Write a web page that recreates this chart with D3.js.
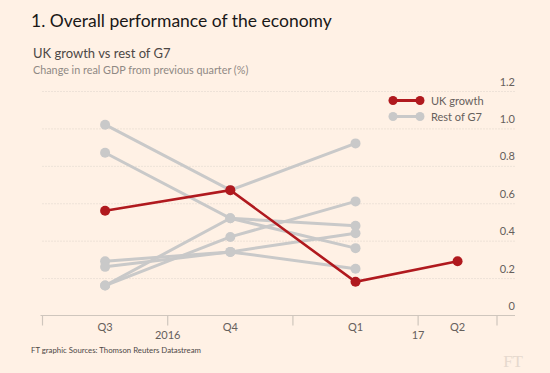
<!DOCTYPE html>
<html>
<head>
<meta charset="utf-8">
<script src="https://cdn.jsdelivr.net/npm/d3@7"></script>
<style>
  body { margin: 0; background: #fff1e5; }
  svg text { font-family: "Lato", "Noto Sans", sans-serif; }
</style>
</head>
<body>
<div id="chart"></div>
<script>
// quarters shown, year markers on the axis
let quarters    = ["Q3", "Q4", "Q1", "Q2"];
let yearMarks   = [{ q: 1, label: "2016" }, { q: 3, label: "17" }];
let ukGrowth    = [0.56, 0.67, 0.18, 0.29];
// rest of G7, one row per country (Q3, Q4, Q1)
let restOfG7    = [
    [1.02, 0.67, 0.92],
    [0.87, 0.52, 0.36],
    [0.16, 0.52, 0.48],
    [0.16, 0.42, 0.61],
    [0.29, 0.34, 0.44],
    [0.26, 0.34, 0.25]
];
let yTicks      = [0, 0.2, 0.4, 0.6, 0.8, 1.0, 1.2];
let xEnd        = 3.63;   // axis stops part way through Q2

let W = 550, H = 373;
let red = "#b0191e", grey = "#c9c9c9", txtGrey = "#66605c";

let svg = d3.select("#chart").append("svg")
    .attr("width", W)
    .attr("height", H);

svg.append("rect").attr("width", W).attr("height", H).attr("fill", "#fff1e5");

let x = d3.scaleLinear().domain([0, xEnd]).range([42.5, 497]);
let y = d3.scaleLinear().domain([0, 1.2]).range([315.5, 91]);

// point sits in the middle of the visible part of each quarter
let qMid = (i) => (i + Math.min(i + 1, xEnd)) / 2;

// titles
svg.append("text").attr("x", 31).attr("y", 27)
    .attr("font-size", 17.5).attr("fill", "#1a1817")
    .text("1. Overall performance of the economy");
svg.append("text").attr("x", 33).attr("y", 58)
    .attr("font-size", 13).attr("fill", "#4d4845")
    .text("UK growth vs rest of G7");
svg.append("text").attr("x", 33).attr("y", 74)
    .attr("font-size", 10.8).attr("fill", "#8f8984")
    .text("Change in real GDP from previous quarter (%)");

// y grid + labels on the right
let yAxis = d3.axisRight(y)
    .tickValues(yTicks)
    .tickSize(x(xEnd) + 18 - 42.5)
    .tickFormat(d => d === 0 ? "0" : d3.format(".1f")(d));

let gy = svg.append("g")
    .attr("transform", "translate(42.5,0)")
    .call(yAxis);
gy.select(".domain").remove();
gy.selectAll(".tick line")
    .attr("stroke", "#dcd3ca")
    .attr("stroke-dasharray", "1,2")
    .attr("stroke-width", 1)
    .filter(d => d === 0).remove();
gy.selectAll(".tick text")
    .attr("x", x(xEnd) + 18 - 42.5)
    .attr("dy", -6)
    .attr("text-anchor", "end")
    .attr("font-size", 11)
    .attr("fill", txtGrey);

// x axis
let gx = svg.append("g").attr("transform", "translate(0," + y(0) + ")");
gx.append("line")
    .attr("x1", x(0) - 2).attr("x2", x(xEnd) + 18)
    .attr("stroke", "#cfc6bd").attr("stroke-width", 1.2);
gx.selectAll(".tk")
    .data([0, 1, 2, 3, xEnd])
    .enter().append("line")
        .attr("x1", d => x(d)).attr("x2", d => x(d))
        .attr("y1", 0).attr("y2", 10)
        .attr("stroke", "#cfc6bd").attr("stroke-width", 1.2);
gx.selectAll(".ql")
    .data(quarters)
    .enter().append("text")
        .attr("x", (d, i) => x(qMid(i)))
        .attr("y", 15.5)
        .attr("text-anchor", "middle")
        .attr("font-size", 11)
        .attr("fill", txtGrey)
        .text(d => d);
gx.selectAll(".yl")
    .data(yearMarks)
    .enter().append("text")
        .attr("x", d => x(d.q))
        .attr("y", 23)
        .attr("text-anchor", "middle")
        .attr("font-size", 11)
        .attr("fill", txtGrey)
        .text(d => d.label);

// lines
let line = d3.line()
    .x((d, i) => x(qMid(i)))
    .y(d => y(d));

let gGrey = svg.append("g");
restOfG7.forEach(series => {
    gGrey.append("path")
        .attr("d", line(series))
        .attr("fill", "none")
        .attr("stroke", grey)
        .attr("stroke-width", 3);
    gGrey.selectAll(null)
        .data(series)
        .enter().append("circle")
            .attr("cx", (d, i) => x(qMid(i)))
            .attr("cy", d => y(d))
            .attr("r", 5)
            .attr("fill", grey);
});

svg.append("path")
    .attr("d", line(ukGrowth))
    .attr("fill", "none")
    .attr("stroke", red)
    .attr("stroke-width", 2.6);
svg.selectAll(".ukdot")
    .data(ukGrowth)
    .enter().append("circle")
        .attr("cx", (d, i) => x(qMid(i)))
        .attr("cy", d => y(d))
        .attr("r", 5)
        .attr("fill", red);

// legend
let legend = [{ name: "UK growth", c: red }, { name: "Rest of G7", c: grey }];
let lg = svg.selectAll(".lg").data(legend).enter().append("g")
    .attr("transform", (d, i) => "translate(393," + (100.5 + i * 16) + ")");
lg.append("line").attr("x1", 0).attr("x2", 27)
    .attr("stroke", d => d.c).attr("stroke-width", 3);
lg.append("circle").attr("cx", 0).attr("r", 4.5).attr("fill", d => d.c);
lg.append("circle").attr("cx", 27).attr("r", 4.5).attr("fill", d => d.c);
lg.append("text").attr("x", 38).attr("dy", 4)
    .attr("font-size", 11).attr("fill", txtGrey)
    .text(d => d.name);

// source + logo
svg.append("text").attr("x", 31).attr("y", 353)
    .attr("font-size", 7.8).attr("fill", "#4d4845")
    .text("FT graphic Sources: Thomson Reuters Datastream");
svg.append("text").attr("x", 523).attr("y", 367)
    .attr("text-anchor", "end")
    .style("font-family", "'Liberation Serif', serif")
    .attr("font-size", 17).attr("fill", "#e6d9ce")
    .text("FT");
</script>
</body>
</html>
